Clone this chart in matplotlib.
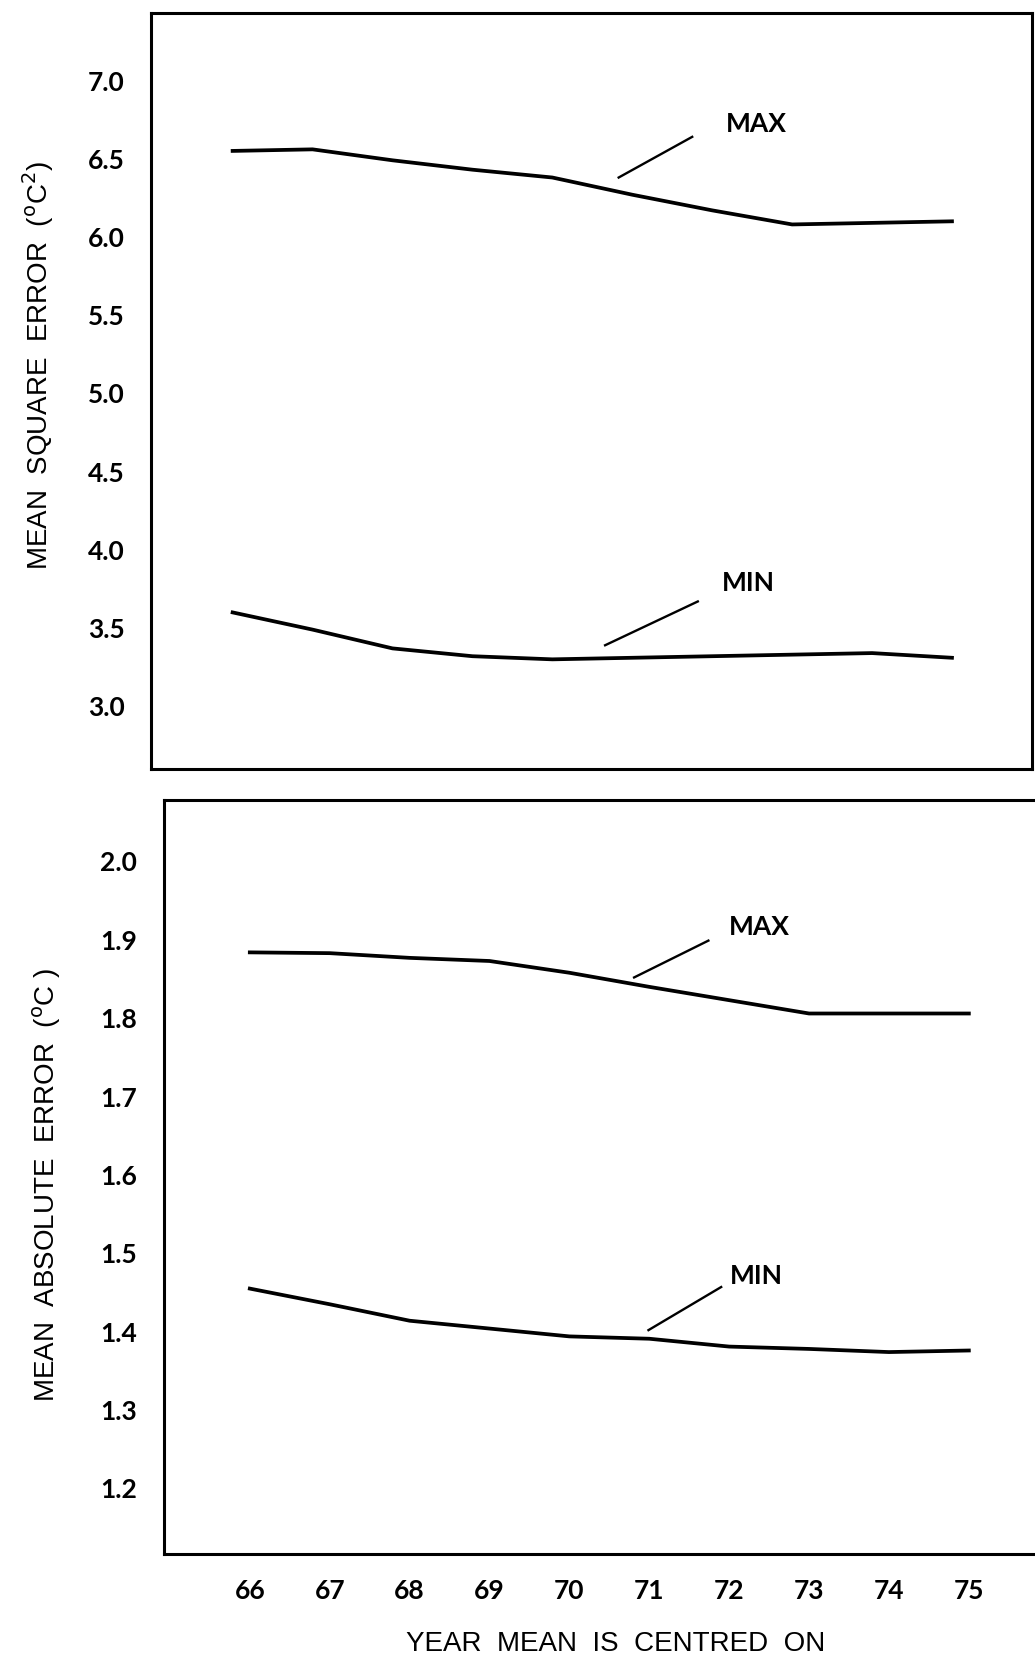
import matplotlib
matplotlib.use("Agg")
import matplotlib.pyplot as plt

years = [66, 67, 68, 69, 70, 71, 72, 73, 74, 75]
year_labels = ["66", "67", "68", "69", "70", "71", "72", "73", "74", "75"]

# mean square error (oC^2)
mse_max = [6.55, 6.56, 6.49, 6.43, 6.38, 6.27, 6.17, 6.08, 6.09, 6.10]
mse_min = [3.60, 3.49, 3.37, 3.32, 3.30, 3.31, 3.32, 3.33, 3.34, 3.31]
mse_ticks = [3.0, 3.5, 4.0, 4.5, 5.0, 5.5, 6.0, 6.5, 7.0]

# mean absolute error (oC)
mae_max = [1.884, 1.883, 1.877, 1.873, 1.858, 1.840, 1.823, 1.806, 1.806, 1.806]
mae_min = [1.455, 1.435, 1.414, 1.404, 1.394, 1.391, 1.381, 1.378, 1.374, 1.376]
mae_ticks = [1.2, 1.3, 1.4, 1.5, 1.6, 1.7, 1.8, 1.9, 2.0]

TICK_FONT = dict(family=["Lato", "DejaVu Sans"], weight="bold", size=19)
LABEL_FONT = dict(family=["Liberation Sans", "DejaVu Sans"], size=20)

fig = plt.figure(figsize=(10.35, 16.57), dpi=100)
ax1 = fig.add_axes([0.146, 0.536, 0.851, 0.456])
ax2 = fig.add_axes([0.158, 0.062, 0.846, 0.455])


def style(ax, ticks, fmt):
    for s in ax.spines.values():
        s.set_linewidth(2.2)
    ax.set_yticks(ticks)
    ax.set_yticklabels([fmt.format(t) for t in ticks], fontdict=TICK_FONT)
    ax.tick_params(axis="both", length=0, pad=19)


def note(ax, text, p0, p1, tpos):
    ax.plot([p0[0], p1[0]], [p0[1], p1[1]], color="black", lw=1.7)
    ax.text(tpos[0], tpos[1], text, ha="center", va="center", fontdict=TICK_FONT)


# top panel
ax1.plot(years, mse_max, color="black", lw=2.7)
ax1.plot(years, mse_min, color="black", lw=2.7)
ax1.set_xlim(64.98, 76.0)
ax1.set_ylim(2.6, 7.43)
style(ax1, mse_ticks, "{:.1f}")
ax1.set_xticks([])
ax1.set_ylabel(r"MEAN  SQUARE  ERROR  ($^{\mathrm{o}}$C$^{2}$)", fontdict=LABEL_FONT, va="center")
ax1.yaxis.set_label_coords(-0.128, 0.534)
note(ax1, "MAX", (70.83, 6.38), (71.75, 6.64), (72.55, 6.72))
note(ax1, "MIN", (70.66, 3.39), (71.82, 3.67), (72.45, 3.79))

# bottom panel
ax2.plot(years, mae_max, color="black", lw=2.7)
ax2.plot(years, mae_min, color="black", lw=2.7)
ax2.set_xlim(64.92, 75.88)
ax2.set_ylim(1.116, 2.078)
style(ax2, mae_ticks, "{:.1f}")
ax2.set_xticks(years)
ax2.set_xticklabels(year_labels, fontdict=TICK_FONT)
ax2.tick_params(axis="x", pad=18)
ax2.set_ylabel(r"MEAN  ABSOLUTE  ERROR  ($^{\mathrm{o}}$C )", fontdict=LABEL_FONT, va="center")
ax2.yaxis.set_label_coords(-0.133, 0.49)
ax2.set_xlabel("YEAR  MEAN  IS  CENTRED  ON", fontdict=LABEL_FONT, va="center")
ax2.xaxis.set_label_coords(0.516, -0.119)
note(ax2, "MAX", (70.81, 1.852), (71.74, 1.899), (72.38, 1.916))
note(ax2, "MIN", (70.99, 1.402), (71.90, 1.457), (72.34, 1.471))

fig.savefig("out.png", dpi=100)
